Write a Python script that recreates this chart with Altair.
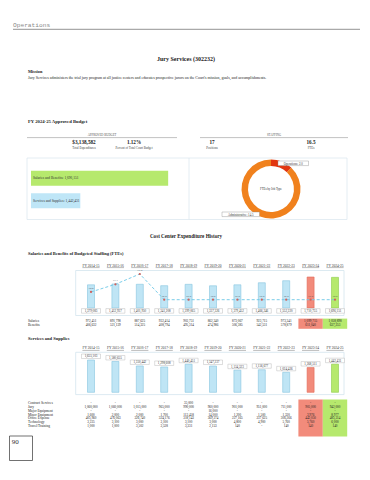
import altair as alt
import pandas as pd

# ---------------- data read from the page ----------------
years = ["FY 2014-15", "FY 2015-16", "FY 2016-17", "FY 2017-18", "FY 2018-19", "FY 2019-20",
         "FY 2020-21", "FY 2021-22", "FY 2022-23", "FY 2023-24", "FY 2024-25"]
salaries = [972451, 891798, 887625, 932414, 903751, 862340, 873067, 923715, 973341, 1099715, 1058898]
benefits = [406632, 521139, 514325, 408794, 495314, 474986, 506385, 542531, 578879, 611040, 637253]
fte = [16.8, 17.1, 17.5, 16.5, 16.5, 16.5, 16.5, 16.5, 16.5, 16.5, 16.5]

ss_total = [1655103, 1580655, 1350442, 1298608, 1440451, 1347237, 1134323, 1156677, 1024426, 1268511, 1442431]
ss_rows = ["Contract Services", "Jury", "Major Equipment", "Minor Equipment", "Office Expense",
           "Technology", "Travel/Training"]
contract = [None, None, None, None, 35000, None, None, None, None, None, None]
jury = [1060000, 1060000, 1015000, 965000, 990000, 960000, 901000, 951000, 711000, 905000, 942000]
major = [None, None, None, None, None, 16000, None, None, None, None, None]
minor = [1600, 2000, 2000, 1700, 113458, 14000, 1200, 1500, 1320, 3976, 8977]
office = [405960, 476063, 326740, 324176, 318143, 369274, 227165, 237625, 306266, 443050, 485314]
tech = [3225, 3100, 3000, 3100, 3100, 3000, 4800, 4900, 5760, 5760, 6000]
travel = [1000, 1000, 3502, 3528, 3331, 2153, 140, None, 140, 140, 140]

sb_rows = ["Salaries", "Benefits"]
budget_cats = ["Salaries and Benefits", "Services and Supplies"]
budget_vals = [1696151, 1442431]
job_types = ["Operations", "Administrative"]
job_fte = [2.0, 14.5]

# ---------------- page geometry helpers ----------------
OX, OY = 8, 8
def px(x): return x - OX
def py(y): return y - OY

SERIF = "Liberation Serif"
BLUE, BLUE_S = "#bfe5f5", "#86c4df"
RED, RED_S = "#f28b7b", "#e06a58"
GREEN, GREEN_S = "#b6e96d", "#8ccb4a"
one = pd.DataFrame({"a": [0]})

def txt(s, x, y, size, bold=False, align="left", color="#222", font=SERIF):
    return alt.Chart(pd.DataFrame({"t": [s]})).mark_text(
        align=align, baseline="middle", fontSize=size,
        fontWeight="bold" if bold else "normal", font=font, color=color
    ).encode(text="t:N", x=alt.value(px(x)), y=alt.value(py(y)))

def box(x1, y1, x2, y2, stroke="#d6e6ee", sw=0.8, fill="transparent"):
    return alt.Chart(one).mark_rect(fill=fill, stroke=stroke, strokeWidth=sw).encode(
        x=alt.value(px(x1)), x2=alt.value(px(x2)), y=alt.value(py(y1)), y2=alt.value(py(y2)))

def hrule(x1, x2, y, color="#888", w=0.7):
    return alt.Chart(one).mark_rule(color=color, strokeWidth=w).encode(
        x=alt.value(px(x1)), x2=alt.value(px(x2)), y=alt.value(py(y)))

def vrule(x, y1, y2, color="#d6e6ee", w=0.8):
    return alt.Chart(one).mark_rule(color=color, strokeWidth=w).encode(
        x=alt.value(px(x)), y=alt.value(py(y1)), y2=alt.value(py(y2)))

layers = []

# ---------------- header ----------------
layers += [
    txt("Operations", 13, 24.8, 6.2, color="#8a8a8a", font="Liberation Mono"),
    hrule(13, 360, 29.3, "#777", 0.8),
    txt("Jury Services (302232)", 186, 59, 6.0, bold=True, align="center"),
    txt("Mission", 28, 72, 4.3, bold=True),
    txt("Jury Services administers the trial jury program at all justice centers and educates "
        "prospective jurors on the Court's mission, goals, and accomplishments.", 28, 77.5, 3.9),
    txt("FY 2024-25 Approved Budget", 28, 122, 4.7, bold=True),
    txt("APPROVED BUDGET", 102, 134.6, 3.0, align="center", color="#555"),
    txt("STAFFING", 274, 134.6, 3.0, align="center", color="#555"),
    hrule(27, 177, 137.6, "#999", 0.6),
    hrule(200, 348, 137.6, "#999", 0.6),
    txt("$3,138,582", 84, 142.3, 5.2, bold=True, align="center"),
    txt("Total Expenditures", 84, 147.3, 3.1, align="center", color="#444"),
    txt("1.12%", 134, 142.3, 5.2, bold=True, align="center"),
    txt("Percent of Total Court Budget", 134, 147.3, 3.1, align="center", color="#444"),
    txt("17", 212, 142.3, 5.2, bold=True, align="center"),
    txt("Positions", 212, 147.3, 3.1, align="center", color="#444"),
    txt("16.5", 311, 142.3, 5.2, bold=True, align="center"),
    txt("FTEs", 311, 147.3, 3.1, align="center", color="#444"),
]

# ---------------- budget panel ----------------
bud = pd.DataFrame({"cat": budget_cats, "v": budget_vals})
ycat = alt.Y("cat:N", scale=alt.Scale(type="point", domain=budget_cats,
                                      range=[py(178.2), py(200.8)], padding=0), axis=None)
xbud = alt.X("v:Q", scale=alt.Scale(domain=[1300000, 1700000], range=[px(31), px(169.5)]), axis=None)
layers += [
    box(27, 158, 347, 219.5, "#dde9f0", 0.8),
    vrule(189, 158, 219.5, "#dde9f0", 0.8),
    alt.Chart(bud).mark_bar(height=15).encode(
        x=xbud, x2=alt.datum(1300000), y=ycat,
        color=alt.Color("cat:N", scale=alt.Scale(domain=budget_cats, range=[GREEN, "#bfe6f7"]), legend=None)),
    alt.Chart(bud).transform_calculate(lbl="datum.cat + ':  ' + format(datum.v, ',')").mark_text(
        align="left", baseline="middle", fontSize=3.5, font=SERIF, color="#333").encode(
        x=alt.value(px(33)), y=ycat, text="lbl:N"),
]

dn = pd.DataFrame({"job": job_types, "fte": job_fte})
layers += [
    alt.Chart(dn).mark_arc(innerRadius=23, outerRadius=29.5).encode(
        theta=alt.Theta("fte:Q", stack=True),
        order=alt.Order("job:N", sort="descending"),
        color=alt.Color("job:N", scale=alt.Scale(domain=job_types, range=["#e2360f", "#f0811d"]), legend=None),
        x=alt.value(px(271)), y=alt.value(py(189))),
    txt("FTEs by Job Type", 271, 189, 3.0, align="center", color="#333"),
    box(278, 161, 308.5, 165.6, "#888", 0.4, "white"),
    box(222, 212, 259.5, 216.6, "#888", 0.4, "white"),
    alt.Chart(dn).transform_filter(alt.datum.job == "Operations").transform_calculate(
        lbl="datum.job + ': ' + format(datum.fte, '.1f')").mark_text(
        align="center", baseline="middle", fontSize=3.1, font=SERIF, color="#333").encode(
        x=alt.value(px(293.2)), y=alt.value(py(163.4)), text="lbl:N"),
    alt.Chart(dn).transform_filter(alt.datum.job == "Administrative").transform_calculate(
        lbl="datum.job + ': ' + format(datum.fte, '.1f')").mark_text(
        align="center", baseline="middle", fontSize=3.1, font=SERIF, color="#333").encode(
        x=alt.value(px(240.7)), y=alt.value(py(214.4)), text="lbl:N"),
    txt("Cost Center Expenditure History", 186, 236, 5.1, bold=True, align="center"),
]

# ---------------- shared year scale ----------------
X_year = alt.X("year:N", scale=alt.Scale(type="point", domain=years, range=[px(91), px(335)], padding=0),
               axis=None)
yr_df = pd.DataFrame({"year": years})
bar_color = alt.Color("year:N", scale=alt.Scale(domain=years, range=[BLUE] * 9 + [RED, GREEN]), legend=None)
bar_stroke = alt.Stroke("year:N", scale=alt.Scale(domain=years, range=[BLUE_S] * 9 + [RED_S, GREEN_S]),
                        legend=None)
hl_color = alt.Color("year:N", scale=alt.Scale(domain=years[-2:], range=[RED, GREEN]), legend=None)

def year_header(y):
    return [
        alt.Chart(yr_df).mark_text(fontSize=3.5, font=SERIF, color="#333", baseline="middle").encode(
            x=X_year, y=alt.value(py(y)), text="year:N"),
        alt.Chart(yr_df).mark_rule(xOffset=-8.6, x2Offset=8.6, color="#555", strokeWidth=0.4).encode(
            x=X_year, x2=alt.X2("year"), y=alt.value(py(y + 2.1))),
    ]

def row_labels(rows, yenc):
    return alt.Chart(pd.DataFrame({"row": rows})).mark_text(
        align="left", baseline="middle", fontSize=3.5, font=SERIF, color="#222").encode(
        x=alt.value(px(28)), y=yenc, text="row:N")

# ---------------- salaries & benefits ----------------
sb = pd.DataFrame({"year": years, "salaries": salaries, "benefits": benefits, "fte": fte})
ysb = alt.Y("total:Q", scale=alt.Scale(domain=[394000, 1800000], range=[py(308), py(274.9)]), axis=None)
yfte = alt.Y("fte:Q", scale=alt.Scale(domain=[16.5, 17.5], range=[py(299.7), py(274)]), axis=None)
sb_long = pd.DataFrame({
    "year": years * 2,
    "row": [sb_rows[0]] * len(years) + [sb_rows[1]] * len(years),
    "v": salaries + benefits,
})
ysbrow = alt.Y("row:N", scale=alt.Scale(type="point", domain=sb_rows,
                                        range=[py(321), py(325)], padding=0), axis=None)
layers += [txt("Salaries and Benefits of Budgeted Staffing (FTEs)", 28, 254, 4.5, bold=True)]
layers += year_header(265.5)
layers += [
    box(75.7, 270.5, 344, 315.5, "#d3e5ee", 0.8),
    alt.Chart(sb).transform_calculate(total="datum.salaries + datum.benefits").mark_bar(
        width=7, strokeWidth=0.6).encode(x=X_year, y=ysb, y2=alt.datum(394000),
                                         color=bar_color, stroke=bar_stroke),
    alt.Chart(sb).mark_line(strokeDash=[3, 2], color="#6cc7e6", strokeWidth=0.9).encode(x=X_year, y=yfte),
    alt.Chart(sb).mark_point(filled=True, size=5, color="#d2605a", opacity=1).encode(x=X_year, y=yfte),
    alt.Chart(sb).mark_text(dy=-4.4, fontSize=2.9, font=SERIF, color="#444").encode(
        x=X_year, y=yfte, text=alt.Text("fte:Q", format=".1f")),
    alt.Chart(sb).mark_rect(xOffset=-9.5, x2Offset=9.5, fill="white", stroke="#b5b5b5", strokeWidth=0.45).encode(
        x=X_year, x2=alt.X2("year"), y=alt.value(py(308.6)), y2=alt.value(py(313.2))),
    alt.Chart(sb).transform_calculate(total="datum.salaries + datum.benefits").mark_text(
        fontSize=3.2, font=SERIF, color="#333", baseline="middle").encode(
        x=X_year, y=alt.value(py(310.9)), text=alt.Text("total:Q", format=",")),
    alt.Chart(yr_df).transform_filter(alt.FieldOneOfPredicate(field="year", oneOf=years[-2:])).mark_rect(
        xOffset=-12.2, x2Offset=12.2).encode(
        x=X_year, x2=alt.X2("year"), y=alt.value(py(318.6)), y2=alt.value(py(328.8)), color=hl_color),
    row_labels(sb_rows, ysbrow),
    alt.Chart(sb_long).transform_calculate(lbl="datum.v == null ? '-' : format(datum.v, ',')").mark_text(
        baseline="middle", fontSize=3.3, font=SERIF, color="#222").encode(x=X_year, y=ysbrow, text="lbl:N"),
]

# ---------------- services & supplies ----------------
ss = pd.DataFrame({"year": years, "total": ss_total})
yss = alt.Y("total:Q", scale=alt.Scale(domain=[0, 2000000], range=[py(392.3), py(353.3)]), axis=None)
ss_cols = [contract, jury, major, minor, office, tech, travel]
ss_long = pd.DataFrame({
    "year": years * len(ss_rows),
    "row": [r for r in ss_rows for _ in years],
    "v": [v for col in ss_cols for v in col],
})
yssrow = alt.Y("row:N", scale=alt.Scale(type="point", domain=ss_rows,
                                        range=[py(402.8), py(426.2)], padding=0), axis=None)
layers += [txt("Services and Supplies", 28, 339.3, 4.5, bold=True)]
layers += year_header(348.3)
layers += [
    box(75.7, 352.3, 344, 394.6, "#d3e5ee", 0.8),
    alt.Chart(ss).mark_bar(width=7, strokeWidth=0.6).encode(
        x=X_year, y=yss, y2=alt.datum(0), color=bar_color, stroke=bar_stroke),
    alt.Chart(ss).mark_rect(xOffset=-9.5, x2Offset=9.5, yOffset=-6, y2Offset=-1.5,
                            fill="white", stroke="#b5b5b5", strokeWidth=0.45).encode(
        x=X_year, x2=alt.X2("year"), y=yss, y2=alt.Y2("total")),
    alt.Chart(ss).mark_text(dy=-3.75, fontSize=3.2, font=SERIF, color="#333", baseline="middle").encode(
        x=X_year, y=yss, text=alt.Text("total:Q", format=",")),
    alt.Chart(yr_df).transform_filter(alt.FieldOneOfPredicate(field="year", oneOf=years[-2:])).mark_rect(
        xOffset=-12.2, x2Offset=12.2).encode(
        x=X_year, x2=alt.X2("year"), y=alt.value(py(399.6)), y2=alt.value(py(436.4)), color=hl_color),
    row_labels(ss_rows, yssrow),
    alt.Chart(ss_long).transform_calculate(lbl="datum.v == null ? '-' : format(datum.v, ',')").mark_text(
        baseline="middle", fontSize=3.3, font=SERIF, color="#222").encode(x=X_year, y=yssrow, text="lbl:N"),
]

# ---------------- page number ----------------
layers += [
    box(9.5, 436, 32.5, 460.5, "#333", 0.7),
    txt("90", 11.8, 441.8, 7, color="#333"),
]

chart = alt.layer(*layers).resolve_scale(
    x="independent", y="independent", color="independent", stroke="independent", theta="independent"
).properties(width=354, height=464, padding=0, autosize="none", background="white").configure_view(stroke=None)

chart.save("out.html", embed_options={"renderer": "svg", "actions": False})
